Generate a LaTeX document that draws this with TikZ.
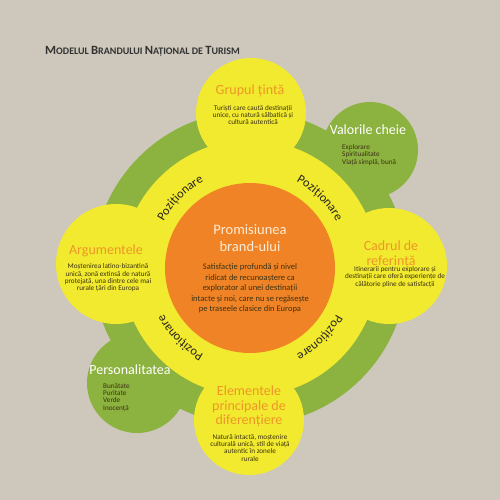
\documentclass[tikz,border=0pt]{standalone}
\usepackage{fontspec}
\setmainfont{Carlito}
\usetikzlibrary{decorations.text}
\definecolor{bg}{RGB}{205,200,187}
\definecolor{grn}{RGB}{140,178,63}
\definecolor{yel}{RGB}{242,234,46}
\definecolor{org}{RGB}{240,131,37}
\definecolor{hdorange}{RGB}{238,150,40}
\definecolor{bodyc}{RGB}{60,50,20}
\definecolor{promc}{RGB}{253,236,214}
\definecolor{pozc}{RGB}{40,35,30}
\definecolor{titlec}{RGB}{50,50,50}
\begin{document}
\begin{tikzpicture}[x=1pt,y=-1pt,
  disc/.style={circle, inner sep=0pt, draw=none},
  head/.style={font=\fontsize{14}{14.5}\selectfont, align=center, inner sep=0pt},
  body/.style={font=\fontsize{7.2}{7.4}\selectfont, align=center, inner sep=0pt, text=bodyc},
  poz/.style={decorate, decoration={text along path, text align=center,
     text={|\fontsize{12.5}{12.5}\selectfont\color{pozc}|Poziționare}}}]
\useasboundingbox (0,0) rectangle (500,500);
\fill[bg] (0,0) rectangle (500,500);
% title
\node[anchor=base west, inner sep=0pt, text=titlec, font=\bfseries] (title) at (45,55)
 {{\fontsize{12.6}{13}\selectfont M}{\fontsize{10}{13}\selectfont ODELUL }{\fontsize{12.6}{13}\selectfont B}{\fontsize{10}{13}\selectfont RANDULUI }{\fontsize{12.6}{13}\selectfont N}{\fontsize{10}{13}\selectfont AȚIONAL DE }{\fontsize{12.6}{13}\selectfont T}{\fontsize{10}{13}\selectfont URISM}};
% green layer
\node[disc, fill=grn, minimum size=314pt] (greenring) at (250,268) {};
\node[disc, fill=grn, minimum size=96pt] (valori) at (370,150) {};
\node[disc, fill=grn, minimum size=100pt] (person) at (137,383) {};
% yellow layer
\node[disc, fill=yel, minimum size=256pt] (yellowring) at (250,268) {};
\node[disc, fill=yel, minimum size=110pt] (grup) at (251,113) {};
\node[disc, fill=yel, minimum size=120pt] (argum) at (116,264) {};
\node[disc, fill=yel, minimum size=116pt] (cadru) at (389,266) {};
\node[disc, fill=yel, minimum size=110pt] (elem) at (249,420) {};
% orange center
\node[disc, fill=org, minimum size=170pt] (promise) at (250,268) {};
% positioning labels
\path[poz] plot[domain=190:260, samples=40] ({250+98*cos(\x)},{268+98*sin(\x)});
\path[poz] plot[domain=280:350, samples=40] ({250+98*cos(\x)},{268+98*sin(\x)});
\path[poz] plot[domain=10:80, samples=40] ({250+98*cos(\x)},{268+98*sin(\x)});
\path[poz] plot[domain=100:170, samples=40] ({250+98*cos(\x)},{268+98*sin(\x)});
% texts
\node[head, text=hdorange, anchor=base] (grupT) at (250,95) {Grupul țintă};
\node[body, anchor=north] (grupB) at (253,105) {Turiști care caută destinații\\unice, cu natură sălbatică și\\cultură autentică};
\node[head, text=white, anchor=base] (valT) at (368,134) {Valorile cheie};
\node[body, align=left, anchor=north west] (valB) at (342,144) {Explorare\\Spiritualitate\\Viață simplă, bună};
\node[head, text=hdorange, anchor=base] (argT) at (106,254) {Argumentele};
\node[body, anchor=north] (argB) at (108,263.5) {Moștenirea latino-bizantină\\unică, zonă extinsă de natură\\protejată, una dintre cele mai\\rurale țări din Europa};
\node[head, text=hdorange, anchor=north, font=\fontsize{14}{14.3}\selectfont] (cadT) at (391,241) {Cadrul de\\referință};
\node[body, anchor=north] (cadB) at (395,266) {Itinerarii pentru explorare și\\destinații care oferă experiențe de\\călătorie pline de satisfacții};
\node[head, text=promc, anchor=north, font=\fontsize{14.5}{17}\selectfont] (promT) at (250,224) {Promisiunea\\brand-ului};
\node[body, anchor=north, font=\fontsize{8.5}{10.5}\selectfont] (promB) at (250,263.5) {Satisfacție profundă și nivel\\ridicat de recunoaștere ca\\explorator al unei destinații\\intacte și noi, care nu se regăsește\\pe traseele clasice din Europa};
\node[head, text=white, anchor=base] (perT) at (130,374) {Personalitatea};
\node[body, align=left, anchor=north west] (perB) at (103,383) {Bunătate\\Puritate\\Verde\\Inocență};
\node[head, text=hdorange, anchor=north] (elemT) at (249,386) {Elementele\\principale de\\diferențiere};
\node[body, anchor=north] (elemB) at (250,434) {Natură intactă, moștenire\\culturală unică, stil de viață\\autentic în zonele\\rurale};
\end{tikzpicture}
\end{document}
